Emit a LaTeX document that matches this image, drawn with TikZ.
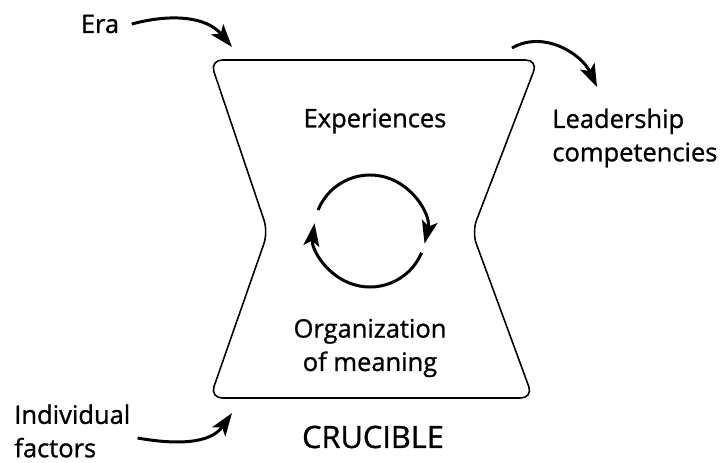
\documentclass[tikz,border=0pt]{standalone}
\usepackage{fontspec}
\setmainfont{Open Sans}[FakeBold=1]
\usetikzlibrary{arrows.meta}

\tikzset{
    lbl/.style={font=\fontsize{14.5}{19}\selectfont, inner sep=0pt},
    flow/.style={line width=1.7pt, -{Stealth[length=13pt,width=9pt,inset=3pt]}}
}

\begin{document}
\begin{tikzpicture}
    \useasboundingbox (0,0) rectangle (14.48,9.26);

    % Crucible outline
    \draw[line width=0.9pt, rounded corners=7pt]
        (4.20,8.06) -- (10.76,8.06) -- (9.44,4.62) -- (10.66,1.30)
        -- (4.20,1.30) -- (5.36,4.62) -- cycle;

    % Labels inside and below
    \node[lbl] (exp) at (7.50,6.84) {Experiences};
    \node[lbl, align=center] (org) at (7.40,2.30) {Organization\\of meaning};
    \node[font=\fontsize{17.5}{20}\selectfont, inner sep=0pt] (cru) at (7.46,0.52) {CRUCIBLE};

    % Cycle between the two
    \coordinate (mid) at (7.40,4.64);
    \draw[flow] (mid) ++(158:1.12) arc[start angle=158, end angle=-13, radius=1.12];
    \draw[flow] (mid) ++(-23:1.12) arc[start angle=-23, end angle=-188, radius=1.12];

    % Outside inputs and output
    \node[lbl] (era) at (2.00,8.78) {Era};
    \node[lbl, anchor=west, align=left] (lead) at (11.04,6.50) {Leadership\\competencies};
    \node[lbl, anchor=west, align=left] (indiv) at (0.28,0.64) {Individual\\factors};

    \coordinate (eratip) at (4.64,8.32);
    \coordinate (leadtail) at (10.24,8.30);
    \coordinate (leadtip) at (11.94,7.52);
    \coordinate (indivtip) at (4.64,1.00);

    \draw[flow] ([xshift=7pt]era.east) to[out=15,in=130] (eratip);
    \draw[flow] (leadtail) to[out=30,in=115] (leadtip);
    \draw[flow] ([xshift=4pt,yshift=-4pt]indiv.east) to[out=-10,in=235] (indivtip);

\end{tikzpicture}
\end{document}
